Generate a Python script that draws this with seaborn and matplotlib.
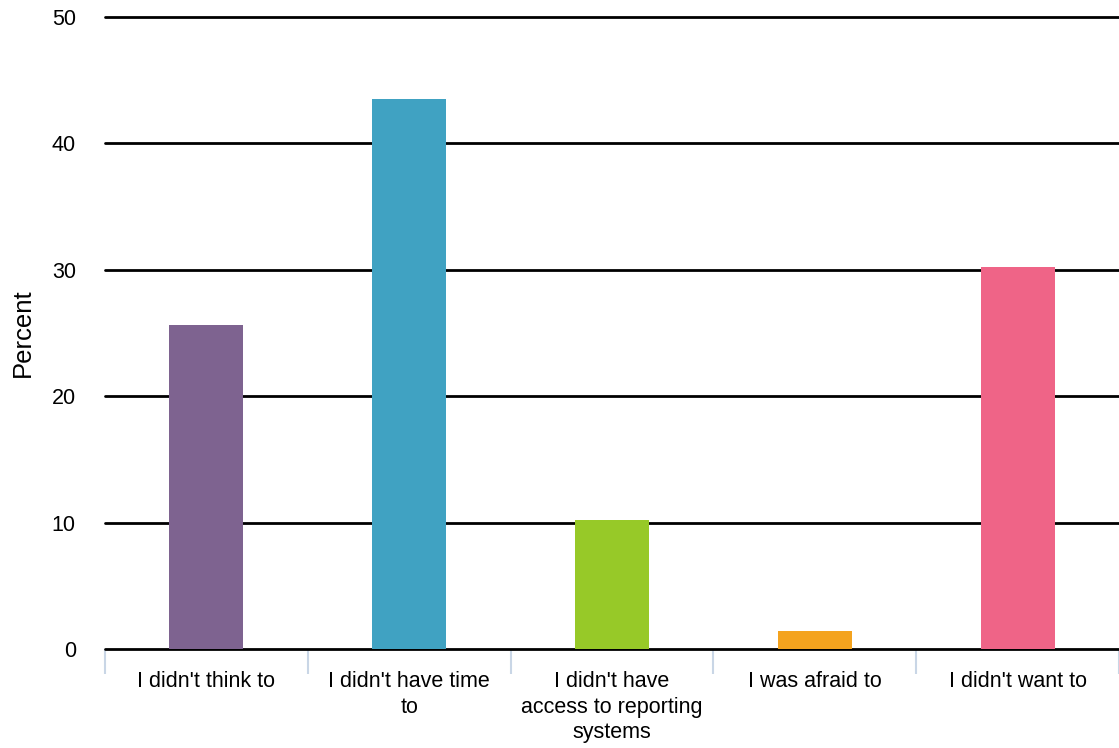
import matplotlib
matplotlib.use("Agg")
import matplotlib.pyplot as plt
import pandas as pd
import seaborn as sns

# Chart data
# ----------
categories = [
    "I didn't think to",
    "I didn't have time\nto",
    "I didn't have\naccess to reporting\nsystems",
    "I was afraid to",
    "I didn't want to",
]
percents = [25.6, 43.5, 10.2, 1.4, 30.2]
bar_colors = ["#7e6390", "#40a2c2", "#97c928", "#f4a31e", "#ef6487"]
y_ticks = [0, 10, 20, 30, 40, 50]

df = pd.DataFrame({"reason": categories, "percent": percents})

sns.set_style("white")
plt.rcParams["font.family"] = ["Liberation Sans", "DejaVu Sans"]
plt.rcParams["text.color"] = "black"

fig = plt.figure(figsize=(11.19, 7.48), dpi=100)
ax = fig.add_axes([0.0938, 0.1324, 0.9062, 0.845])

sns.barplot(data=df, x="reason", y="percent", hue="reason",
            palette=bar_colors, width=0.365, legend=False, ax=ax,
            saturation=1, linewidth=0, edgecolor="none", zorder=3)

# horizontal grid lines in black
ax.set_ylim(0, 50)
ax.set_yticks(y_ticks)
ax.set_xlim(-0.5, len(categories) - 0.5)
for t in y_ticks:
    ax.axhline(t, color="black", lw=2, zorder=2, clip_on=False)

for s in ax.spines.values():
    s.set_visible(False)

# small separators under the baseline between categories
ax.set_xticks([i - 0.5 for i in range(len(categories) + 1)], minor=True)
ax.tick_params(axis="x", which="minor", bottom=True, length=18, width=1.5,
               color="#c9d6e6")
ax.tick_params(axis="x", which="major", bottom=False, length=0, pad=16,
               labelsize=15.5, labelcolor="black")
ax.tick_params(axis="y", left=False, length=0, pad=21, labelsize=15.5,
               labelcolor="black")
ax.set_xticklabels(categories, linespacing=1.28)

ax.set_xlabel("")
ax.set_ylabel("Percent", fontsize=18.5, color="black")
ax.yaxis.set_label_coords(-0.069, 0.5)

fig.savefig("out.png", dpi=100)
